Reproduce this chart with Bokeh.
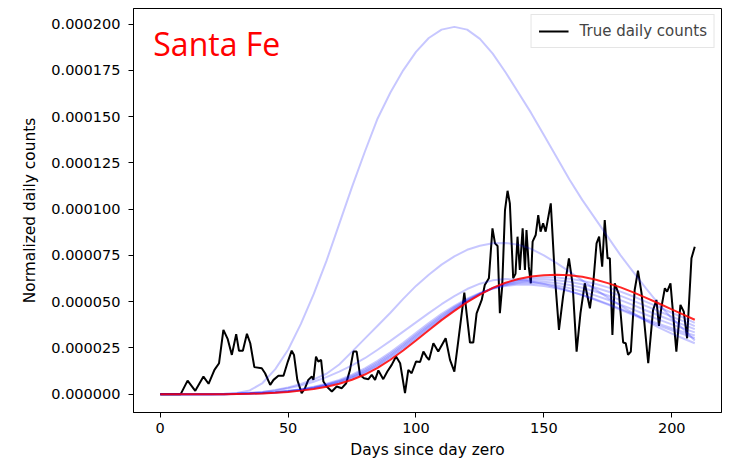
import numpy as np
from bokeh.plotting import figure
from bokeh.models import Range1d, FixedTicker, PrintfTickFormatter, Label
from bokeh.embed import file_html
from bokeh.resources import INLINE

# ---------------- data (values in units of 1e-5) ----------------
true_days = [0, 8, 10.7, 13.7, 16.9, 18.9, 21.2, 23, 24.7, 26.4, 28, 29.7, 30.8, 32.3, 33.9, 35.2,
             36.8, 39.7, 41, 43, 44.3, 46.2, 48.2, 49.9, 51.4, 52.3, 53.6, 55.3, 56.6, 57.9, 59.3,
             59.9, 60.9, 61.8, 62.9, 63.8, 65.1, 67.1, 69, 71, 72.7, 74.2, 75.5, 76.8, 78.1, 79.7,
             81.4, 82.7, 84, 85.3, 87.2, 88.8, 90.5, 92.2, 93.8, 95.7, 97, 98.3, 100, 101.6, 102.9,
             104.2, 105.1, 106.8, 108.7, 111.6, 113.3, 115, 116.5, 118.9, 119.8, 121.1, 122.4,
             123.7, 125.7, 126.9, 128.5, 129.9, 130.9, 131.9, 132.8, 133.7, 134.8, 135.8, 136.7,
             138, 138.9, 139.7, 140.6, 141.7, 142.6, 143.2, 144.1, 144.9, 145.6, 146.8, 147.8,
             148.7, 149.7, 150.7, 152.7, 154.3, 155.9, 157.5, 159.8, 161.2, 162.8, 164.3, 166,
             168, 169.3, 170.6, 171.6, 172.8, 173.8, 174.9, 175.8, 176.8, 177.7, 179.4, 181, 182,
             182.9, 184, 185.5, 186.8, 188.2, 190.8, 192.7, 194, 195, 196, 197.3, 198.2, 199.5,
             201.8, 203.4, 204.7, 206, 207.7, 209]
true_counts_e5 = [0, 0, 0.73, 0.18, 0.95, 0.56, 1.31, 1.67, 3.47, 2.97, 2.12, 3.24, 2.34, 2.34, 3.26, 2.75,
                  1.46, 1.40, 1.13, 0.50, 0.77, 0.99, 0.99, 1.76, 2.35, 2.12, 0.77, 0.05, 0.32, 0.77, 0.95,
                  0.77, 2.03, 1.76, 1.85, 0.68, 0.41, 0.14, 0.41, 0.32, 0.59, 1.31, 2.30, 2.30, 1.04, 0.86,
                  0.81, 1.04, 0.77, 1.28, 0.81, 1.22, 1.58, 2.03, 1.67, 0.05, 1.31, 1.13, 1.76, 1.74, 2.30,
                  2.00, 1.85, 2.75, 2.30, 3.02, 1.85, 1.22, 2.84, 5.49, 4.37, 2.79, 2.79,
                  4.37, 5.09, 5.90, 6.26, 8.96, 8.15, 8.01, 4.37, 5.81, 9.95, 10.99, 10.31,
                  6.26, 6.50, 8.51, 6.71, 8.96, 6.71, 8.87, 6.89, 5.99, 8.24, 8.60, 9.68,
                  8.78, 9.23, 8.78, 10.31, 6.35, 3.47, 5.27, 7.34, 5.99, 2.30, 4.37, 5.99,
                  4.64, 5.99, 8.15, 8.51, 6.89, 9.41, 7.34, 7.34, 3.20, 5.99, 5.36, 2.79, 2.75,
                  2.12, 2.30, 5.63, 6.67, 5.45, 1.67, 4.55, 5.09, 3.69, 4.73, 5.72, 5.54, 5.99,
                  2.30, 4.82, 4.46, 3.02, 7.34, 7.97]

fit_days = [0, 5, 10, 15, 20, 25, 30, 35, 40, 45, 50, 55, 60, 65, 70, 75, 80, 85, 90, 95, 100,
            105, 110, 115, 120, 125, 130, 135, 140, 145, 150, 155, 160, 165, 170, 175, 180, 185,
            190, 195, 200, 205, 209]

fit_a_e5 = [0, 0, 0, 0, 0, 0.02,
            0.06, 0.2, 0.6, 1.35, 2.4, 3.8, 5.4, 7.2, 9.2, 11.2, 13.1, 14.9, 16.3, 17.5, 18.5,
            19.25, 19.7, 19.85, 19.7, 19.2, 18.4, 17.4, 16.3, 15.2, 14.0, 12.8, 11.6, 10.5, 9.5,
            8.5, 7.5, 6.6, 5.7, 4.85, 4.1, 3.45, 2.9]
fit_b_e5 = [0, 0, 0, 0, 0, 0,
            0.02, 0.05, 0.12, 0.22, 0.36, 0.55, 0.8, 1.1, 1.6, 2.3, 3.0, 3.7, 4.4, 5.15, 5.85,
            6.45, 7.0, 7.45, 7.8, 8.02, 8.15, 8.17, 8.08, 7.85, 7.5, 7.08, 6.62, 6.15, 5.68,
            5.22, 4.78, 4.36, 3.96, 3.6, 3.27, 2.98, 2.75]
fit_c_e5 = [0, 0, 0, 0, 0, 0.01,
            0.03, 0.07, 0.12, 0.2, 0.32, 0.47, 0.67, 0.92, 1.22, 1.56, 1.94, 2.4, 2.88, 3.38, 3.88,
            4.38, 4.86, 5.3, 5.68, 5.97, 6.15, 6.22, 6.18, 6.09, 5.95, 5.78, 5.57, 5.35, 5.1,
            4.84, 4.56, 4.27, 3.98, 3.7, 3.45, 3.22, 3.02]
fit_d1_e5 = [0, 0, 0, 0, 0, 0,
             0.02, 0.04, 0.07, 0.11, 0.18, 0.27, 0.4, 0.56, 0.77, 1.05, 1.39, 1.8, 2.26, 2.77, 3.31,
             3.84, 4.34, 4.77, 5.16, 5.47, 5.7, 5.85, 5.92, 5.91, 5.84, 5.72, 5.56, 5.36, 5.13,
             4.88, 4.61, 4.33, 4.05, 3.8, 3.56, 3.34, 3.17]
fit_d2_e5 = [0, 0, 0, 0, 0, 0,
             0.02, 0.04, 0.06, 0.1, 0.17, 0.25, 0.37, 0.52, 0.72, 0.98, 1.31, 1.71, 2.16, 2.67, 3.21,
             3.74, 4.25, 4.7, 5.11, 5.45, 5.71, 5.89, 5.99, 6.0, 5.96, 5.87, 5.73, 5.55, 5.34,
             5.1, 4.84, 4.57, 4.29, 4.03, 3.77, 3.53, 3.34]
fit_d3_e5 = [0, 0, 0, 0, 0, 0,
             0.02, 0.04, 0.06, 0.09, 0.16, 0.24, 0.35, 0.49, 0.68, 0.93, 1.25, 1.64, 2.09, 2.6, 3.14,
             3.67, 4.18, 4.65, 5.07, 5.43, 5.72, 5.93, 6.05, 6.1, 6.08, 6.01, 5.9, 5.75, 5.55,
             5.33, 5.08, 4.81, 4.52, 4.25, 3.98, 3.73, 3.51]
fit_d4_e5 = [0, 0, 0, 0, 0, 0,
             0.01, 0.03, 0.05, 0.09, 0.15, 0.22, 0.33, 0.47, 0.65, 0.89, 1.19, 1.57, 2.02, 2.52, 3.06,
             3.6, 4.11, 4.59, 5.03, 5.41, 5.73, 5.97, 6.12, 6.19, 6.2, 6.16, 6.07, 5.94, 5.76,
             5.55, 5.31, 5.04, 4.76, 4.48, 4.19, 3.92, 3.68]
fit_d5_e5 = [0, 0, 0, 0, 0, 0,
             0.01, 0.03, 0.05, 0.08, 0.14, 0.21, 0.31, 0.44, 0.61, 0.84, 1.13, 1.5, 1.94, 2.44, 2.98,
             3.52, 4.05, 4.54, 5.0, 5.4, 5.74, 6.0, 6.18, 6.28, 6.32, 6.3, 6.24, 6.13, 5.97,
             5.77, 5.54, 5.28, 4.99, 4.7, 4.4, 4.11, 3.85]
fit_final_e5 = [0, 0, 0, 0, 0, 0,
                0.01, 0.02, 0.04, 0.07, 0.12, 0.19, 0.28, 0.40, 0.56, 0.78, 1.06, 1.42, 1.86, 2.36, 2.90,
                3.45, 4.00, 4.50, 4.97, 5.38, 5.74, 6.02, 6.22, 6.36, 6.43, 6.45, 6.42, 6.34, 6.20,
                6.00, 5.77, 5.50, 5.20, 4.90, 4.58, 4.27, 4.02]

x_ticks = [0, 50, 100, 150, 200]
y_ticks = [0, 0.000025, 0.00005, 0.000075, 0.0001, 0.000125, 0.00015, 0.000175, 0.0002]
county_name = "Santa Fe"
legend_text = "True daily counts"
x_label = "Days since day zero"
y_label = "Normalized daily counts"

UNIT = 1e-5
fits = [fit_a_e5, fit_b_e5, fit_c_e5, fit_d1_e5, fit_d2_e5, fit_d3_e5, fit_d4_e5, fit_d5_e5]

# ranges with matplotlib-like 5% margins
xmin, xmax = min(true_days), max(true_days)
ymax = max(max(f) for f in fits + [fit_final_e5, true_counts_e5]) * UNIT
xpad = 0.05 * (xmax - xmin)
ypad = 0.05 * ymax

p = figure(width=741, height=463, output_backend="svg", toolbar_location=None,
           x_range=Range1d(xmin - xpad, xmax + xpad), y_range=Range1d(-ypad, ymax + ypad),
           min_border_left=133, min_border_right=20, min_border_top=8, min_border_bottom=51,
           background_fill_color="white", border_fill_color="white")

p.line(true_days, np.array(true_counts_e5) * UNIT, line_color="black", line_width=2,
       legend_label=legend_text)
for f in fits:
    p.line(fit_days, np.array(f) * UNIT, line_color="blue", line_alpha=0.22, line_width=2)
p.line(fit_days, np.array(fit_final_e5) * UNIT, line_color="red", line_alpha=0.85, line_width=2)

p.add_layout(Label(x=xmin - 2.7, y=0.0001896, text=county_name, text_color="red",
                   text_font="Open Sans", text_font_size="32px", text_baseline="alphabetic"))

p.xgrid.visible = False
p.ygrid.visible = False
p.outline_line_color = "black"
p.outline_line_width = 1
p.outline_line_alpha = 1

p.xaxis.ticker = FixedTicker(ticks=x_ticks)
p.yaxis.ticker = FixedTicker(ticks=y_ticks)
p.yaxis.formatter = PrintfTickFormatter(format="%.6f")

for ax in (p.xaxis[0], p.yaxis[0]):
    ax.axis_line_color = "black"
    ax.major_tick_line_color = "black"
    ax.major_tick_in = 0
    ax.major_tick_out = 5
    ax.minor_tick_line_color = None
    ax.major_label_text_font = "DejaVu Sans"
    ax.major_label_text_font_size = "14.5px"
    ax.major_label_text_color = "black"
    ax.axis_label_text_font = "DejaVu Sans"
    ax.axis_label_text_font_size = "15.4px"
    ax.axis_label_text_font_style = "normal"
    ax.axis_label_text_color = "black"

p.xaxis.axis_label = x_label
p.yaxis.axis_label = y_label
p.xaxis.major_label_standoff = 5
p.xaxis.axis_label_standoff = 5
p.yaxis.major_label_standoff = 8
p.yaxis.axis_label_standoff = 9

lg = p.legend[0]
lg.location = "top_right"
lg.label_text_font = "DejaVu Sans"
lg.label_text_font_size = "15px"
lg.border_line_color = "#cccccc"
lg.border_line_width = 1
lg.background_fill_alpha = 0.8
lg.glyph_width = 30
lg.glyph_height = 14
lg.label_height = 14
lg.label_standoff = 11
lg.padding = 7
lg.spacing = 0
lg.margin = 6

open("out.html", "w").write(file_html(p, INLINE))
